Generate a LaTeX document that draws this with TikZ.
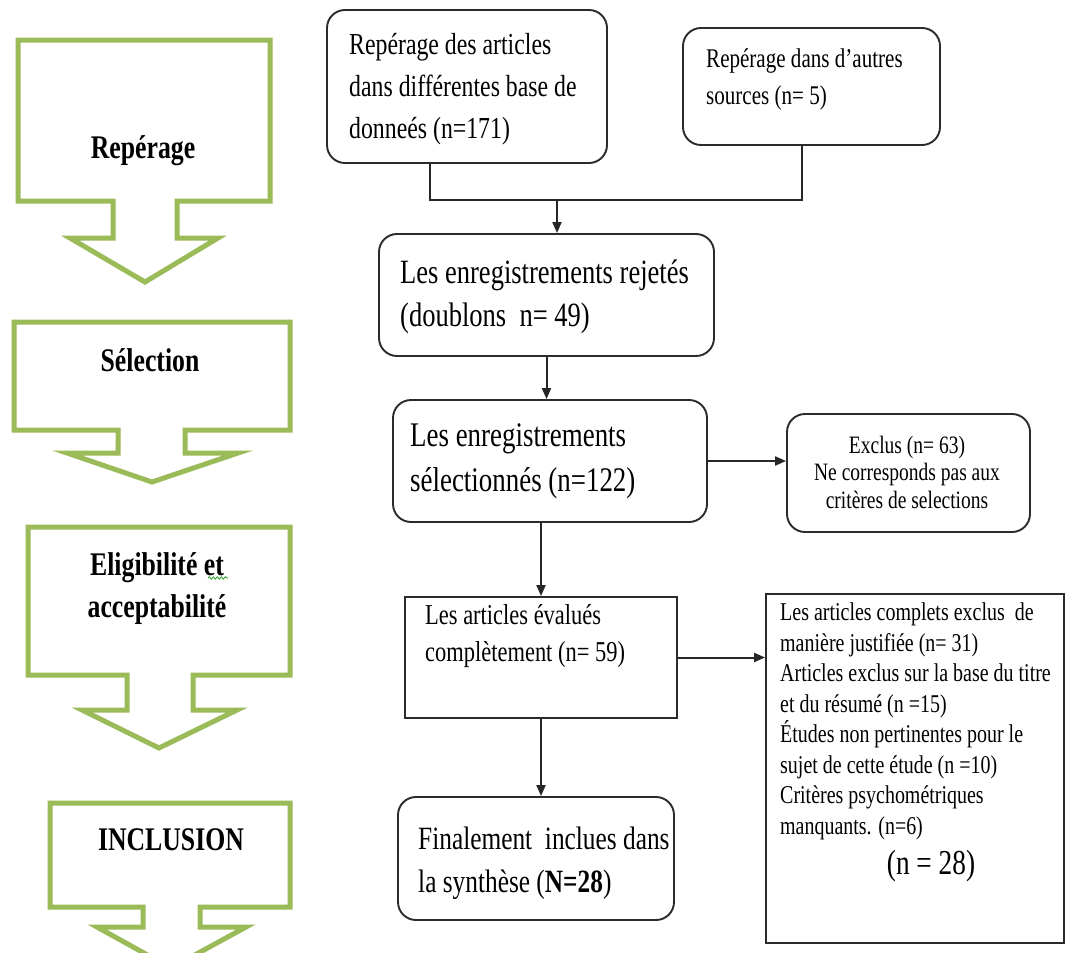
\documentclass[tikz,border=0pt]{standalone}
\usepackage{fontspec}
\setmainfont[FakeStretch=0.78]{Liberation Serif}
\usetikzlibrary{arrows.meta,decorations.pathmorphing}
\definecolor{phase}{HTML}{9BBB59}
\definecolor{boxline}{HTML}{2B2B2B}
\definecolor{spell}{HTML}{2E9E2E}
\begin{document}
\begin{tikzpicture}[x=1pt,y=-1pt,
  phaseshape/.style={draw=phase, line width=5pt, fill=white, line join=miter},
  phaselabel/.style={font=\fontsize{33}{42}\selectfont\bfseries, align=center, inner sep=0pt},
  rbox/.style={draw=boxline, line width=1.9pt, rounded corners=18pt, fill=white, inner sep=0pt},
  sbox/.style={draw=boxline, line width=1.9pt, fill=white, inner sep=0pt},
  btext/.style={anchor=west, align=left, inner sep=0pt},
  conn/.style={draw=black!85, line width=2pt},
  arr/.style={conn, -{Triangle[length=11pt,width=9pt]}},
]
\useasboundingbox (0,0) rectangle (1066,953);
\clip (0,0) rectangle (1066,953);
\fill[white] (0,0) rectangle (1066,953);

% ---- phase arrows (left column) ----
\draw[phaseshape] (18,40) -- (270,40) -- (270,201) -- (177,201) -- (177,238) -- (218,238) -- (145,282) -- (70,238) -- (113,238) -- (113,201) -- (18,201) -- cycle;
\node[phaselabel] (p1) at (143,151) {Repérage};

\draw[phaseshape] (14,322) -- (290,322) -- (290,430) -- (185,430) -- (185,453) -- (238,453) -- (152,482) -- (67,453) -- (118,453) -- (118,430) -- (14,430) -- cycle;
\node[phaselabel] (p2) at (150,360) {Sélection};

\draw[phaseshape] (28,527) -- (290,527) -- (290,675) -- (193,675) -- (193,710) -- (237,710) -- (159,748) -- (82,710) -- (127,710) -- (127,675) -- (28,675) -- cycle;
\node[phaselabel] (p3) at (157,589) {Eligibilité et\\acceptabilité};
\draw[spell, line width=0.8pt, decorate, decoration={snake, amplitude=1.2pt, segment length=4pt}] (208,578) -- (228,578);

\draw[phaseshape] (50,803) -- (290,803) -- (290,907) -- (200,907) -- (200,927) -- (246,927) -- (171,968) -- (97,927) -- (143,927) -- (143,907) -- (50,907) -- cycle;
\node[phaselabel] (p4) at (171,840) {INCLUSION};

% ---- boxes ----
\node[rbox, minimum width=280pt, minimum height=153pt] (A) at (467,86.5) {};
\node[btext, font=\fontsize{30.5}{42}\selectfont] (At) at (349,89) {Repérage des articles\\dans différentes base de\\donneés (n=171)};

\node[rbox, minimum width=257pt, minimum height=117pt] (B) at (811.5,86.5) {};
\node[btext, font=\fontsize{27}{37}\selectfont] (Bt) at (706,79) {Repérage dans d’autres\\sources (n= 5)};

\node[rbox, minimum width=335pt, minimum height=122pt] (C) at (546.5,295) {};
\node[btext, font=\fontsize{34}{43}\selectfont] (Ct) at (400,297) {Les enregistrements rejetés\\(doublons\ \ n= 49)};

\node[rbox, minimum width=314pt, minimum height=122pt] (D) at (550,461) {};
\node[btext, font=\fontsize{34.5}{45}\selectfont] (Dt) at (410,461) {Les enregistrements\\sélectionnés (n=122)};

\node[rbox, minimum width=243pt, minimum height=118pt] (E) at (908.5,473) {};
\node[align=center, inner sep=0pt, font=\fontsize{25}{27.5}\selectfont] (Et) at (907,472) {Exclus (n= 63)\\Ne corresponds pas aux\\critères de selections};

\node[sbox, minimum width=272pt, minimum height=121pt] (F) at (541,657.5) {};
\node[btext, font=\fontsize{28.8}{37}\selectfont] (Ft) at (425,636) {Les articles évalués\\complètement (n= 59)};

\node[sbox, minimum width=298pt, minimum height=349pt] (G) at (915,768.5) {};
\node[anchor=north west, align=left, inner sep=0pt, font=\fontsize{25.6}{30.5}\selectfont] (Gt) at (780,603) {Les articles complets exclus\ \ de\\manière justifiée (n= 31)\\Articles exclus sur la base du titre\\et du résumé (n =15)\\Études non pertinentes pour le\\sujet de cette étude (n =10)\\Critères psychométriques\\manquants. (n=6)};
\node[inner sep=0pt, font=\fontsize{35}{38}\selectfont] (Gn) at (931,866) {(n = 28)};

\node[rbox, minimum width=276pt, minimum height=123pt] (H) at (536,858.5) {};
\node[btext, font=\fontsize{32.5}{43}\selectfont] (Ht) at (418,863) {Finalement\ \ inclues dans\\la synthèse (\textbf{N=28})};

% ---- connectors ----
\coordinate (ja) at (430,200);
\coordinate (jb) at (802,200);
\coordinate (j) at (557,200);
\draw[conn] (A.south -| ja) -- (ja) -- (jb) -- (B.south -| jb);
\draw[arr] (j) -- (C.north -| j);
\draw[arr] (C.south) -- (C.south |- D.north);
\draw[arr] (D.east) -- (D.east -| E.west);
\draw[arr] (F.north |- D.south) -- (F.north);
\draw[arr] (F.east) -- (F.east -| G.west);
\draw[arr] (F.south) -- (F.south |- H.north);
\end{tikzpicture}
\end{document}
